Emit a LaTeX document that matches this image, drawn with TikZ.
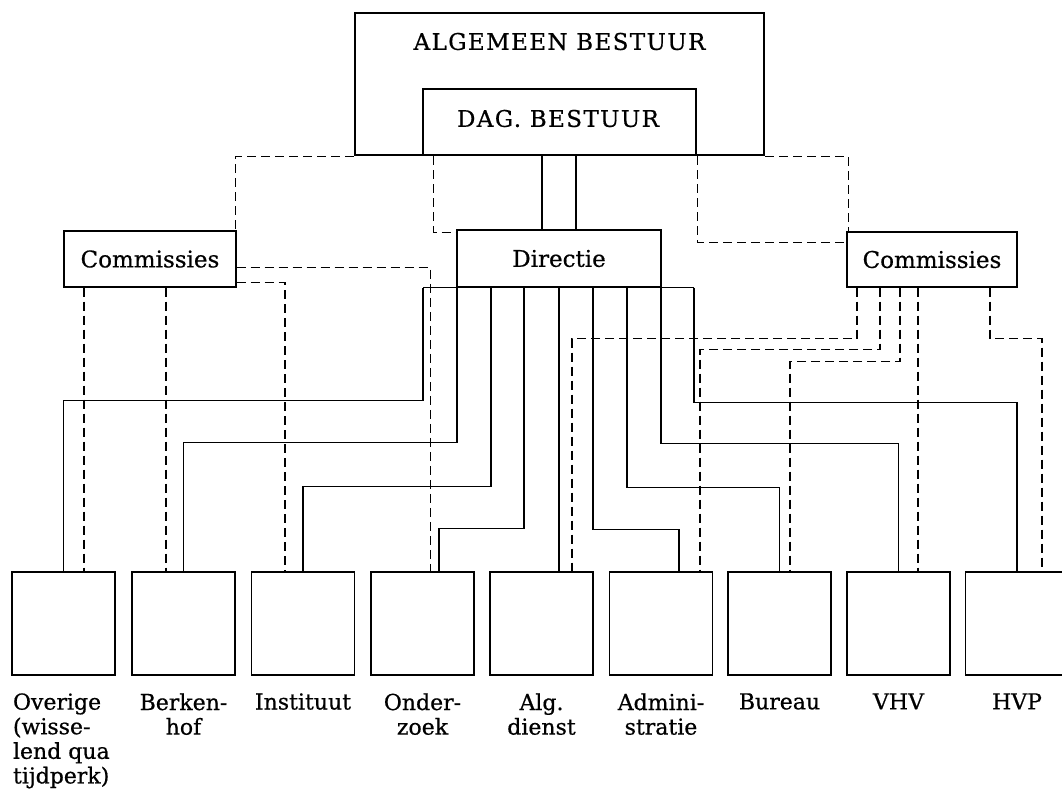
\documentclass[tikz,border=0pt]{standalone}
\usepackage{fontspec}
\setmainfont[FakeBold=0.6]{DejaVu Serif}
\newfontfamily\headfont[LetterSpace=6,FakeBold=0.6]{DejaVu Serif}
\usetikzlibrary{positioning}

\begin{document}
\begin{tikzpicture}[x=1pt, y=-1pt, line width=1.3pt,
  orgbox/.style={draw, font=\fontsize{23}{26}\selectfont},
  unit/.style={draw, minimum width=103pt, minimum height=103pt},
  unitlabel/.style={inner sep=0pt, align=center, font=\fontsize{22}{24.6}\selectfont},
  dashline/.style={dash pattern=on 9pt off 5pt}]

\useasboundingbox (0,0) rectangle (1062,788);

% bestuur
\node (alg) at (559.5,84) [draw, line width=2.4pt, minimum width=409pt, minimum height=142pt] {};
\node (dag) at (559.5,122) [draw, line width=2.4pt, minimum width=273pt, minimum height=66pt] {};
\node (algtxt) at (559.5,41.5) {\fontsize{23}{26}\headfont ALGEMEEN BESTUUR};
\node (dagtxt) at (558,118.5) {\fontsize{23}{26}\headfont DAG. BESTUUR};

\node (dir) at (559,258.5) [orgbox, minimum width=204pt, minimum height=57pt] {Directie};
\node (lc) at (150,259) [orgbox, minimum width=172pt, minimum height=56pt] {Commissies};
\node (rc) at (932,259.5) [orgbox, minimum width=170pt, minimum height=55pt] {Commissies};

% afdelingen
\node (b1) at (63.5,623.5) [unit] {};
\node (b2) at (183.5,623.5) [unit] {};
\node (b3) at (303,623.5) [unit] {};
\node (b4) at (422.5,623.5) [unit] {};
\node (b5) at (541.5,623.5) [unit] {};
\node (b6) at (661,623.5) [unit] {};
\node (b7) at (779.5,623.5) [unit] {};
\node (b8) at (898.5,623.5) [unit] {};
\node (b9) at (1017,623.5) [unit] {};

\node (l1) [unitlabel, align=left, below right=17pt and 1pt of b1.south west] {Overige\\(wisse-\\lend qua\\tijdperk)};
\node (l2) [unitlabel, below=17pt of b2] {Berken-\\hof};
\node (l3) [unitlabel, below=17pt of b3] {Instituut};
\node (l4) [unitlabel, below=17pt of b4] {Onder-\\zoek};
\node (l5) [unitlabel, below=17pt of b5] {Alg.\\dienst};
\node (l6) [unitlabel, below=17pt of b6] {Admini-\\stratie};
\node (l7) [unitlabel, below=17pt of b7] {Bureau};
\node (l8) [unitlabel, below=17pt of b8] {VHV};
\node (l9) [unitlabel, below=17pt of b9] {HVP};

% dag. bestuur -- directie
\draw ([xshift=-17.5pt]dag.south) -- ([xshift=-17.5pt]dag.south |- dir.north);
\draw ([xshift=16.5pt]dag.south) -- ([xshift=16.5pt]dag.south |- dir.north);

% bestuur -- commissies
\draw[dashline] (alg.south west) -| ([xshift=-1pt]lc.north east);
\draw[dashline] (alg.south east) -| ([xshift=2pt]rc.north west);
\draw[dashline] ([xshift=12pt]dag.south west) |- ([yshift=-3pt]dir.north west);
\draw[dashline] (dag.south east) |- ([yshift=-11pt]rc.north west);

% directie -- afdelingen
\draw ([xshift=-136pt]dir.south) -- ([xshift=135pt]dir.south);
\draw ([xshift=-136pt]dir.south) -- ++(0,113) -| (b1.north);
\draw ([xshift=-102pt]dir.south) -- ++(0,155) -| (b2.north);
\draw ([xshift=-68pt]dir.south) -- ++(0,199) -| (b3.north);
\draw ([xshift=-35pt]dir.south) -- ++(0,241) -| ([xshift=16.5pt]b4.north);
\draw (dir.south) -- (dir.south |- b5.north);
\draw ([xshift=34pt]dir.south) -- ++(0,242) -| ([xshift=18pt]b6.north);
\draw ([xshift=68pt]dir.south) -- ++(0,200) -| (b7.north);
\draw ([xshift=102pt]dir.south) -- ++(0,156) -| (b8.north);
\draw ([xshift=135pt]dir.south) -- ++(0,115) -| (b9.north);

% commissies -- afdelingen
\draw[dashline] ([xshift=-66pt]lc.south) -- ([xshift=-66pt]lc.south |- b1.north);
\draw[dashline] ([xshift=16pt]lc.south) -- ([xshift=16pt]lc.south |- b2.north);
\draw[dashline] ([yshift=5pt]lc.south east) -| ([xshift=-18pt]b3.north);
\draw[dashline] ([yshift=20pt]lc.south east) -| ([xshift=8pt]b4.north);

\draw[dashline] ([xshift=-75pt]rc.south) -- ++(0,51) -| ([xshift=30.5pt]b5.north);
\draw[dashline] ([xshift=-52pt]rc.south) -- ++(0,62) -| ([xshift=39pt]b6.north);
\draw[dashline] ([xshift=-32pt]rc.south) -- ++(0,74) -| ([xshift=10.5pt]b7.north);
\draw[dashline] ([xshift=-14pt]rc.south) -- ([xshift=-14pt]rc.south |- b8.north);
\draw[dashline] ([xshift=58pt]rc.south) -- ++(0,51) -| ([xshift=25pt]b9.north);

\end{tikzpicture}
\end{document}
